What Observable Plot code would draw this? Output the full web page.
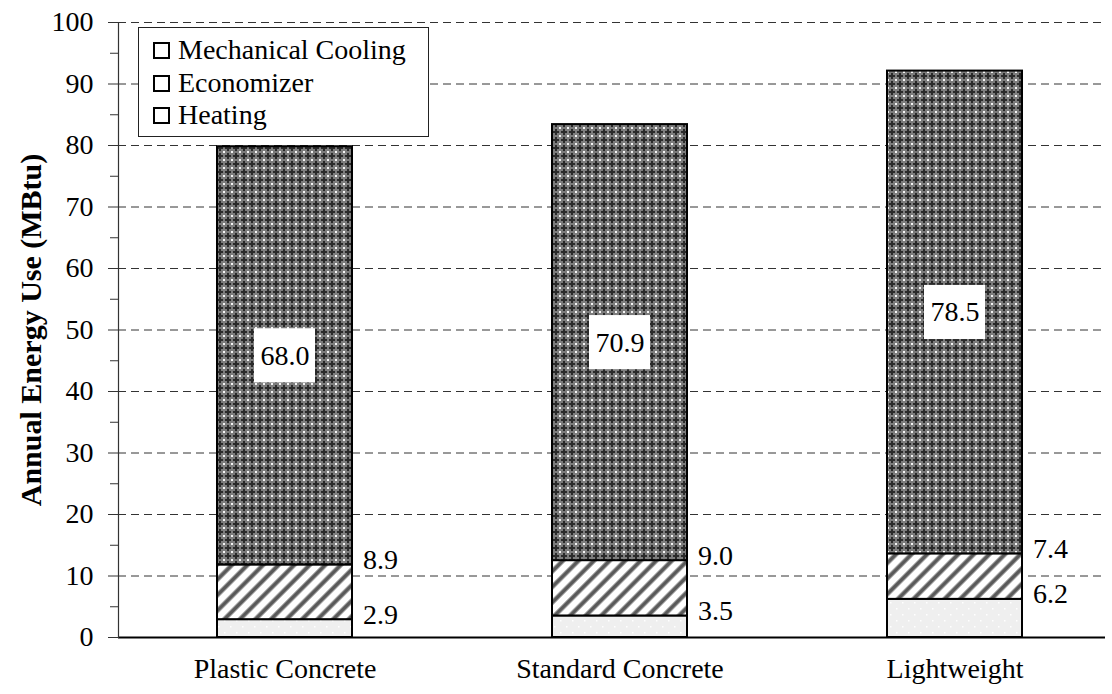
<!DOCTYPE html>
<html>
<head>
<meta charset="utf-8">
<script src="https://cdn.jsdelivr.net/npm/d3@7"></script>
<script src="https://cdn.jsdelivr.net/npm/@observablehq/plot@0.6"></script>
<style>
  html, body { margin: 0; padding: 0; background: #fff; }
  #wrap { position: relative; width: 1112px; height: 694px; font-family: "Liberation Serif", "Times New Roman", serif; }
  #legend { position: absolute; left: 138px; top: 27px; width: 289px; height: 108px; border: 1.5px solid #222; background: #fff; box-sizing: content-box; }
  .row { position: absolute; left: 14px; display: flex; align-items: center; font-size: 28px; color: #000; line-height: 1; }
  .sw { width: 13px; height: 13px; border: 2px solid #000; margin-right: 8px; background: #fff; }
</style>
</head>
<body>
<div id="wrap"></div>
<script>
// ---- data ----
const materials = ["Plastic Concrete", "Standard Concrete", "Lightweight"];
const seriesNames = ["Heating", "Economizer", "Mechanical Cooling"];
const heating = [2.9, 3.5, 6.2];
const economizer = [8.9, 9.0, 7.4];
const cooling = [68.0, 70.9, 78.5];
const yTicks = [0, 10, 20, 30, 40, 50, 60, 70, 80, 90, 100];
const yMinorTicks = [5, 15, 25, 35, 45, 55, 65, 75, 85, 95];
const gridTicks = [10, 20, 30, 40, 50, 60, 70, 80, 90, 100];
const yLabel = "Annual Energy Use (MBtu)";
const legendOrder = ["Mechanical Cooling", "Economizer", "Heating"];

// ---- build rows ----
const values = {"Heating": heating, "Economizer": economizer, "Mechanical Cooling": cooling};
const rows = [];
materials.forEach((m, i) => {
  let base = 0;
  seriesNames.forEach(s => {
    const v = values[s][i];
    rows.push({material: m, series: s, value: v, y1: base, y2: base + v, mid: base + v / 2});
    base += v;
  });
});
const patternOf = {"Heating": "url(#pat-heat)", "Economizer": "url(#pat-econ)", "Mechanical Cooling": "url(#pat-cool)"};
const fmt = d3.format(".1f");
const font = '"Liberation Serif", "Times New Roman", serif';

const barMarks = seriesNames.map(s => Plot.barY(rows.filter(r => r.series === s), {
  x: "material", y1: "y1", y2: "y2", fill: patternOf[s], stroke: "#000", strokeWidth: 2
}));

const coolRows = rows.filter(r => r.series === "Mechanical Cooling");
const sideRows = rows.filter(r => r.series !== "Mechanical Cooling");

const chart = Plot.plot({
  width: 1112,
  height: 694,
  marginLeft: 118,
  marginRight: 7,
  marginTop: 22,
  marginBottom: 57,
  style: {fontFamily: font, fontSize: "28px", color: "#000", background: "transparent"},
  x: {domain: materials, range: [117, 1122], paddingInner: 0.597, paddingOuter: 0.2985},
  y: {domain: [0, 100]},
  marks: [
    Plot.ruleY(gridTicks, {stroke: "#333", strokeWidth: 1, strokeDasharray: "8,5"}),
    ...barMarks,
    Plot.barY(coolRows, {x: "material", y1: d => d.mid - 4.4, y2: d => d.mid + 4.4, fill: "#fff", insetLeft: 37, insetRight: 37}),
    Plot.text(coolRows, {x: "material", y: "mid", text: d => fmt(d.value), fontSize: 28}),
    Plot.text(sideRows, {x: "material", y: "y2", text: d => fmt(d.value), fontSize: 28, textAnchor: "start", dx: 78, dy: -5}),
    Plot.ruleY([0], {stroke: "#000", strokeWidth: 2}),
    Plot.frame({anchor: "left", stroke: "#333", strokeWidth: 1.2}),
    Plot.axisY(yTicks, {tickSize: 10, tickPadding: 15, fontSize: 28, label: null, stroke: "#333"}),
    Plot.axisY(yMinorTicks, {tickSize: 8, tickFormat: () => "", label: null, stroke: "#333"}),
    Plot.axisX({tickSize: 0, tickPadding: 21, fontSize: 28, label: null}),
    Plot.text([yLabel], {frameAnchor: "left", textAnchor: "middle", dx: -87, rotate: -90, fontWeight: "bold", fontSize: 30, text: d => d})
  ]
});

// ---- patterns ----
const svg = d3.select(chart);
const defs = svg.insert("defs", ":first-child");
// cooling: dark crosshatch
const pc = defs.append("pattern").attr("id", "pat-cool").attr("patternUnits", "userSpaceOnUse")
  .attr("width", 8).attr("height", 8);
pc.append("rect").attr("width", 8).attr("height", 8).attr("fill", "#7c7c7c");
pc.append("rect").attr("x", 3).attr("y", 1).attr("width", 2).attr("height", 6).attr("fill", "#2a2a2a");
pc.append("rect").attr("x", 1).attr("y", 3).attr("width", 6).attr("height", 2).attr("fill", "#2a2a2a");
[[0,0],[7,0],[0,7],[7,7]].forEach(([x,y]) => pc.append("rect").attr("x", x).attr("y", y).attr("width", 1).attr("height", 1).attr("fill", "#f4f4f4"));
// economizer: diagonal stripes
const pe = defs.append("pattern").attr("id", "pat-econ").attr("patternUnits", "userSpaceOnUse")
  .attr("width", 11).attr("height", 11).attr("patternTransform", "rotate(45)");
pe.append("rect").attr("width", 11).attr("height", 11).attr("fill", "#fff");
pe.append("rect").attr("x", 0).attr("width", 5).attr("height", 11).attr("fill", "#a0a0a0");
pe.append("rect").attr("x", 1).attr("width", 3).attr("height", 11).attr("fill", "#5a5a5a");
// heating: light gray with faint dots
const ph = defs.append("pattern").attr("id", "pat-heat").attr("patternUnits", "userSpaceOnUse")
  .attr("width", 12).attr("height", 12);
ph.append("rect").attr("width", 12).attr("height", 12).attr("fill", "#efefef");
ph.append("rect").attr("x", 2).attr("y", 2).attr("width", 1.5).attr("height", 1.5).attr("fill", "#fff");
ph.append("rect").attr("x", 8).attr("y", 8).attr("width", 1.5).attr("height", 1.5).attr("fill", "#fff");

const wrap = document.getElementById("wrap");
wrap.appendChild(chart);

// ---- legend ----
const legend = document.createElement("div");
legend.id = "legend";
const rowTops = [8, 41, 73];
legendOrder.forEach((name, i) => {
  const r = document.createElement("div");
  r.className = "row";
  r.style.top = rowTops[i] + "px";
  const sw = document.createElement("div");
  sw.className = "sw";
  const t = document.createElement("span");
  t.textContent = name;
  r.appendChild(sw);
  r.appendChild(t);
  legend.appendChild(r);
});
wrap.appendChild(legend);
</script>
</body>
</html>
